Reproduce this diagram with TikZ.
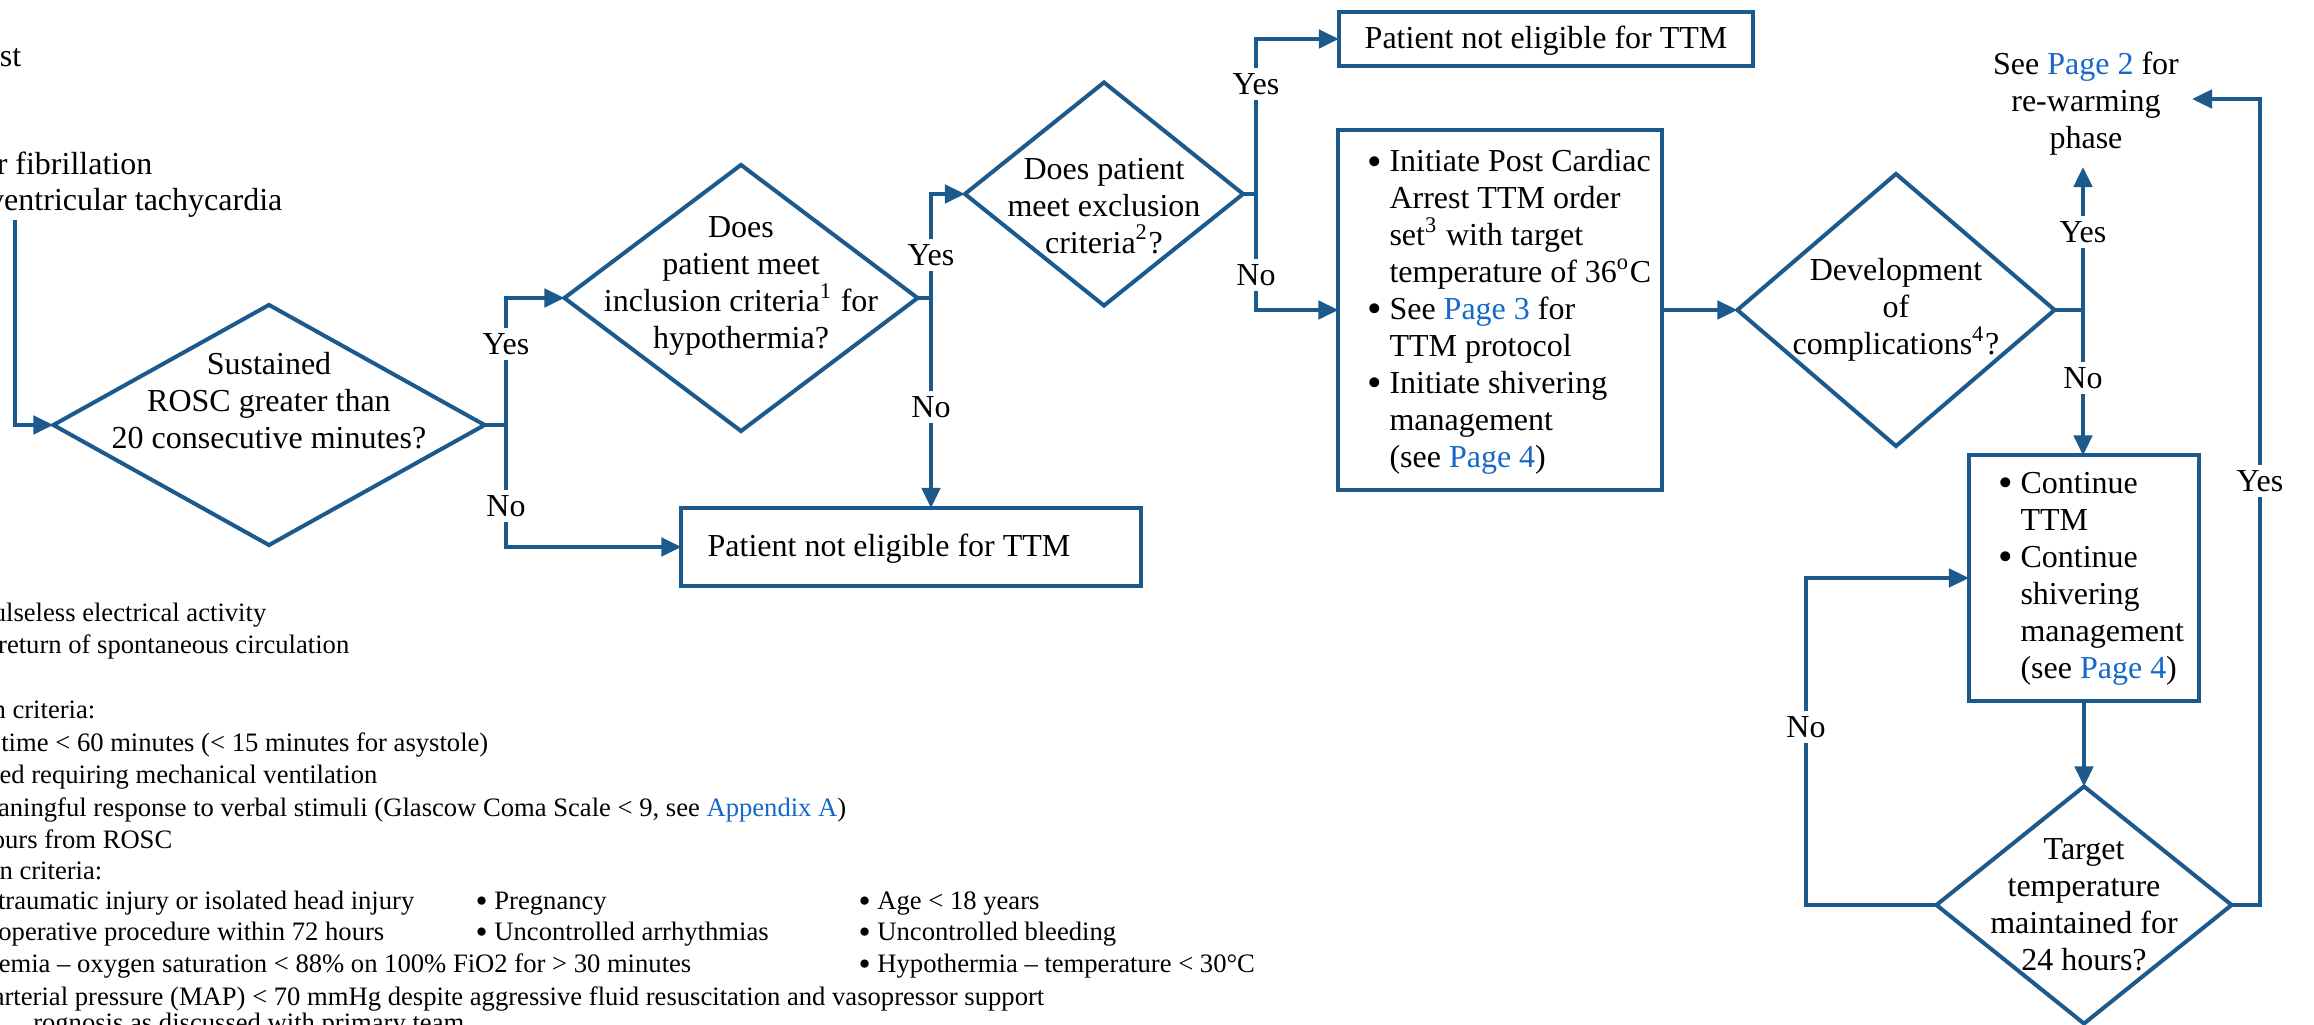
\documentclass[tikz,border=0pt]{standalone}
\usepackage{fontspec}
\setmainfont{Liberation Serif}
\usetikzlibrary{shapes.geometric,arrows.meta}
\definecolor{bl}{RGB}{28,89,140}
\definecolor{lk}{RGB}{22,104,200}
\newcommand\mainfs{\fontsize{9.1pt}{10.5pt}\selectfont}
\newcommand\fnfs{\fontsize{7.57pt}{9.1pt}\selectfont}
\newcommand\lnk[1]{\textcolor{lk}{#1}}
\newcommand\bigdot{\raisebox{-0.9pt}{\fontsize{11.8pt}{0pt}\selectfont •}}
\newcommand\fdot{\raisebox{-0.75pt}{\fontsize{9.8pt}{0pt}\selectfont •}}
\newcommand\bul{\makebox[6.2pt][l]{\bigdot}}
\newcommand\ind{\hspace*{6.2pt}}
\tikzset{
  ln/.style={draw=bl, line width=1.14pt},
  arr/.style={ln, -{Triangle[length=5.7pt,width=5.2pt]}},
  dia/.style={diamond, draw=bl, line width=1.14pt, inner sep=0pt, outer sep=0pt},
  box/.style={rectangle, draw=bl, line width=1.14pt, inner sep=0pt, outer sep=0pt},
  lbl/.style={fill=white, inner sep=1.5pt, font=\mainfs},
  txt/.style={inner sep=0pt, font=\mainfs, align=center},
  ltxt/.style={inner sep=0pt, font=\mainfs, align=left, anchor=west},
  fn/.style={inner sep=0pt, font=\fnfs, anchor=base east},
  fnw/.style={inner sep=0pt, font=\fnfs, anchor=base west},
}
\begin{document}
\begin{tikzpicture}[x=0.01cm,y=-0.01cm]
\useasboundingbox (0,0) rectangle (2314,1025);
\clip (0,0) rectangle (2314,1025);
\fill[white] (0,0) rectangle (2314,1025);

% top-left cut texts
\node[txt, anchor=base east] (t0) at (22,67) {st};
\node[txt, anchor=base east] (t1) at (153,175) {r fibrillation};
\node[txt, anchor=base east] (t2) at (283,211) {ventricular tachycardia};
\coordinate (s0) at (15,220);

% diamonds
\node[dia, minimum width=4.31cm, minimum height=2.40cm] (d1) at (269,425) {};
\node[txt] at (269,401) {Sustained\\ROSC greater than\\20 consecutive minutes?};
\node[dia, minimum width=3.53cm, minimum height=2.66cm] (d2) at (741,298) {};
\node[txt] at (741,286) {Does\\patient meet\\inclusion criteria\textsuperscript{1} for\\hypothermia?};
\node[dia, minimum width=2.78cm, minimum height=2.23cm] (d3) at (1104,194) {};
\node[txt] at (1104,206) {Does patient\\meet exclusion\\criteria\textsuperscript{2}?};
\node[dia, minimum width=3.17cm, minimum height=2.72cm] (d4) at (1896,310) {};
\node[txt] at (1896,310) {Development\\of\\complications\textsuperscript{4}?};
\node[dia, minimum width=2.95cm, minimum height=2.37cm] (d5) at (2084,905) {};
\node[txt] at (2084,905) {Target\\temperature\\maintained for\\24 hours?};

% boxes
\node[box, minimum width=4.59cm, minimum height=0.78cm] (b1) at (911,547) {};
\node[txt] at (889,549) {Patient not eligible for TTM};
\node[box, minimum width=4.14cm, minimum height=0.54cm] (b2) at (1546,39) {};
\node[txt] at (1546,41) {Patient not eligible for TTM};
\node[box, minimum width=3.23cm, minimum height=3.60cm] (b3) at (1500,310) {};
\node[ltxt] at (1367,312) {\bul Initiate Post Cardiac\\\ind Arrest TTM order\\\ind set\textsuperscript{3} with target\\\ind temperature of 36\textsuperscript{o}C\\\bul See \lnk{Page 3} for\\\ind TTM protocol\\\bul Initiate shivering\\\ind management\\\ind (see \lnk{Page 4})};
\node[box, minimum width=2.30cm, minimum height=2.45cm] (b4) at (2084,578) {};
\node[ltxt] at (1998,579) {\bul Continue\\\ind TTM\\\bul Continue\\\ind shivering\\\ind management\\\ind (see \lnk{Page 4})};

\node[txt] (rw) at (2086,104) {See \lnk{Page 2} for\\re-warming\\phase};
\coordinate (rwb) at (2083,167);
\coordinate (rwr) at (2192,99);

% connectors
\draw[arr] (s0) |- (d1.west);
\coordinate (j1) at (506,425);
\draw[arr] (d1.east) -- (j1) |- (d2.west);
\draw[arr] (j1) |- (b1.west);
\node[lbl] at (506,344) {Yes};
\node[lbl] at (506,506) {No};

\coordinate (j2) at (931,298);
\draw[arr] (d2.east) -- (j2) |- (d3.west);
\draw[arr] (j2) -- (j2 |- b1.north);
\node[lbl] at (931,255) {Yes};
\node[lbl] at (931,407) {No};

\coordinate (j3) at (1256,194);
\draw[arr] (d3.east) -- (j3) |- (b2.west);
\draw[arr] (j3) |- (b3.west);
\node[lbl] at (1256,84) {Yes};
\node[lbl] at (1256,275) {No};

\draw[arr] (b3.east) -- (d4.west);

\coordinate (j4) at (2083,310);
\draw[arr] (d4.east) -- (j4) -- (rwb);
\draw[arr] (j4) -- (j4 |- b4.north);
\node[lbl] at (2083,232) {Yes};
\node[lbl] at (2083,378) {No};

\draw[arr] (b4.south) -- (d5.north);

\coordinate (j5) at (1806,905);
\draw[arr] (d5.west) -- (j5) |- (b4.west);
\node[lbl] at (1806,727) {No};

\coordinate (j6) at (2260,905);
\draw[arr] (d5.east) -- (j6) |- (rwr);
\node[lbl] at (2260,481) {Yes};

% footnotes
\node[fn] at (267,622) {ulseless electrical activity};
\node[fn] at (350,654) {return of spontaneous circulation};
\node[fn] at (96,719) {n criteria:};
\node[fn] at (489,752) {time < 60 minutes (< 15 minutes for asystole)};
\node[fn] at (378,784) {ted requiring mechanical ventilation};
\node[fn] at (847,817) {aningful response to verbal stimuli (Glascow Coma Scale < 9, see \lnk{Appendix A})};
\node[fn] at (173,849) {ours from ROSC};
\node[fn] at (103,880) {on criteria:};
\node[fn] at (415,910) {traumatic injury or isolated head injury};
\node[fnw] at (475,910) {\fdot{} Pregnancy};
\node[fnw] at (858,910) {\fdot{} Age < 18 years};
\node[fn] at (385,941) {operative procedure within 72 hours};
\node[fnw] at (475,941) {\fdot{} Uncontrolled arrhythmias};
\node[fnw] at (858,941) {\fdot{} Uncontrolled bleeding};
\node[fn] at (692,973) {emia – oxygen saturation < 88\% on 100\% FiO2 for > 30 minutes};
\node[fnw] at (858,973) {\fdot{} Hypothermia – temperature < 30°C};
\node[fn] at (1045,1006) {arterial pressure (MAP) < 70 mmHg despite aggressive fluid resuscitation and vasopressor support};
\node[fn] at (465,1032) {rognosis as discussed with primary team};
\end{tikzpicture}
\end{document}
